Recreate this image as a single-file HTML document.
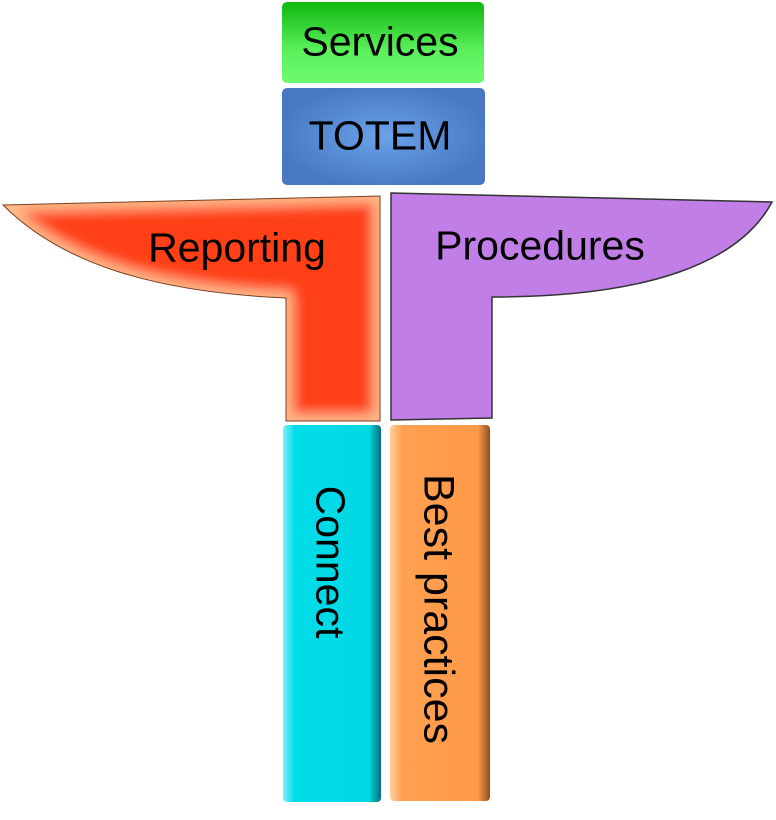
<!DOCTYPE html>
<html><head><style>
body{margin:0;width:776px;height:820px;background:#fff;position:relative;overflow:hidden;font-family:"Liberation Sans",sans-serif}
.b{position:absolute;border-radius:5px;display:flex;align-items:center;justify-content:center;color:#000}
.t{position:absolute;white-space:nowrap;font-size:41px;line-height:1;transform:translate(-50%,-50%) rotate(90deg)}
.h{position:absolute;white-space:nowrap;font-size:41px;line-height:1;transform:translate(-50%,-50%)}
</style></head><body>
<div class="b" style="left:282px;top:2px;width:202px;height:81px;background:linear-gradient(#0fb80f,#5cf05c 60%,#6dfb6d)"></div>
<div class="b" style="left:282px;top:88px;width:203px;height:97px;background:radial-gradient(ellipse at center,#6aa2e8,#4878c4 75%)"></div>
<svg width="776" height="820" style="position:absolute;left:0;top:0">
<defs>
<filter id="bl"><feGaussianBlur stdDeviation="6"/></filter>
<clipPath id="rc"><path d="M3,205 L380,196 L380,421 L286,421 L286,298 C150,292 60,262 3,205 Z"/></clipPath>
<linearGradient id="cg" x1="0" x2="1"><stop offset="0" stop-color="#7ff0f8"/><stop offset="0.12" stop-color="#00dce8"/><stop offset="0.88" stop-color="#00d8e4"/><stop offset="1" stop-color="#00707a"/></linearGradient>
<linearGradient id="og" x1="0" x2="1"><stop offset="0" stop-color="#ffd0a0"/><stop offset="0.12" stop-color="#ffa050"/><stop offset="0.88" stop-color="#ff9a48"/><stop offset="1" stop-color="#8a5020"/></linearGradient>
</defs>
<g clip-path="url(#rc)">
<rect x="0" y="190" width="390" height="240" fill="#ffb888"/>
<path d="M3,205 L380,196 L380,421 L286,421 L286,298 C150,292 60,262 3,205 Z" fill="none" stroke="#ff4018" stroke-width="0"/>
<path d="M3,205 L380,196 L380,421 L286,421 L286,298 C150,292 60,262 3,205 Z" fill="#ff4018" stroke="#ffb888" stroke-width="14" filter="url(#bl)"/>
</g>
<path d="M3,205 L380,196 L380,421 L286,421 L286,298 C150,292 60,262 3,205 Z" fill="none" stroke="#7a4020" stroke-width="1"/>
<path d="M391,193 L772,202 C740,262 650,297 492,297 L492,418 L391,420 Z" fill="#c07ee6" stroke="#333" stroke-width="1.5"/>
<rect x="283" y="425" width="98" height="377" rx="4" fill="url(#cg)"/>
<rect x="390" y="425" width="100" height="376" rx="4" fill="url(#og)"/>
</svg>
<div class="h" style="left:380px;top:42px">Services</div>
<div class="h" style="left:380px;top:136px">TOTEM</div>
<div class="h" style="left:237px;top:248px">Reporting</div>
<div class="h" style="left:540px;top:246px">Procedures</div>
<div class="t" style="left:330px;top:562px">Connect</div>
<div class="t" style="left:438px;top:609px;font-size:43px">Best practices</div>
</body></html>
